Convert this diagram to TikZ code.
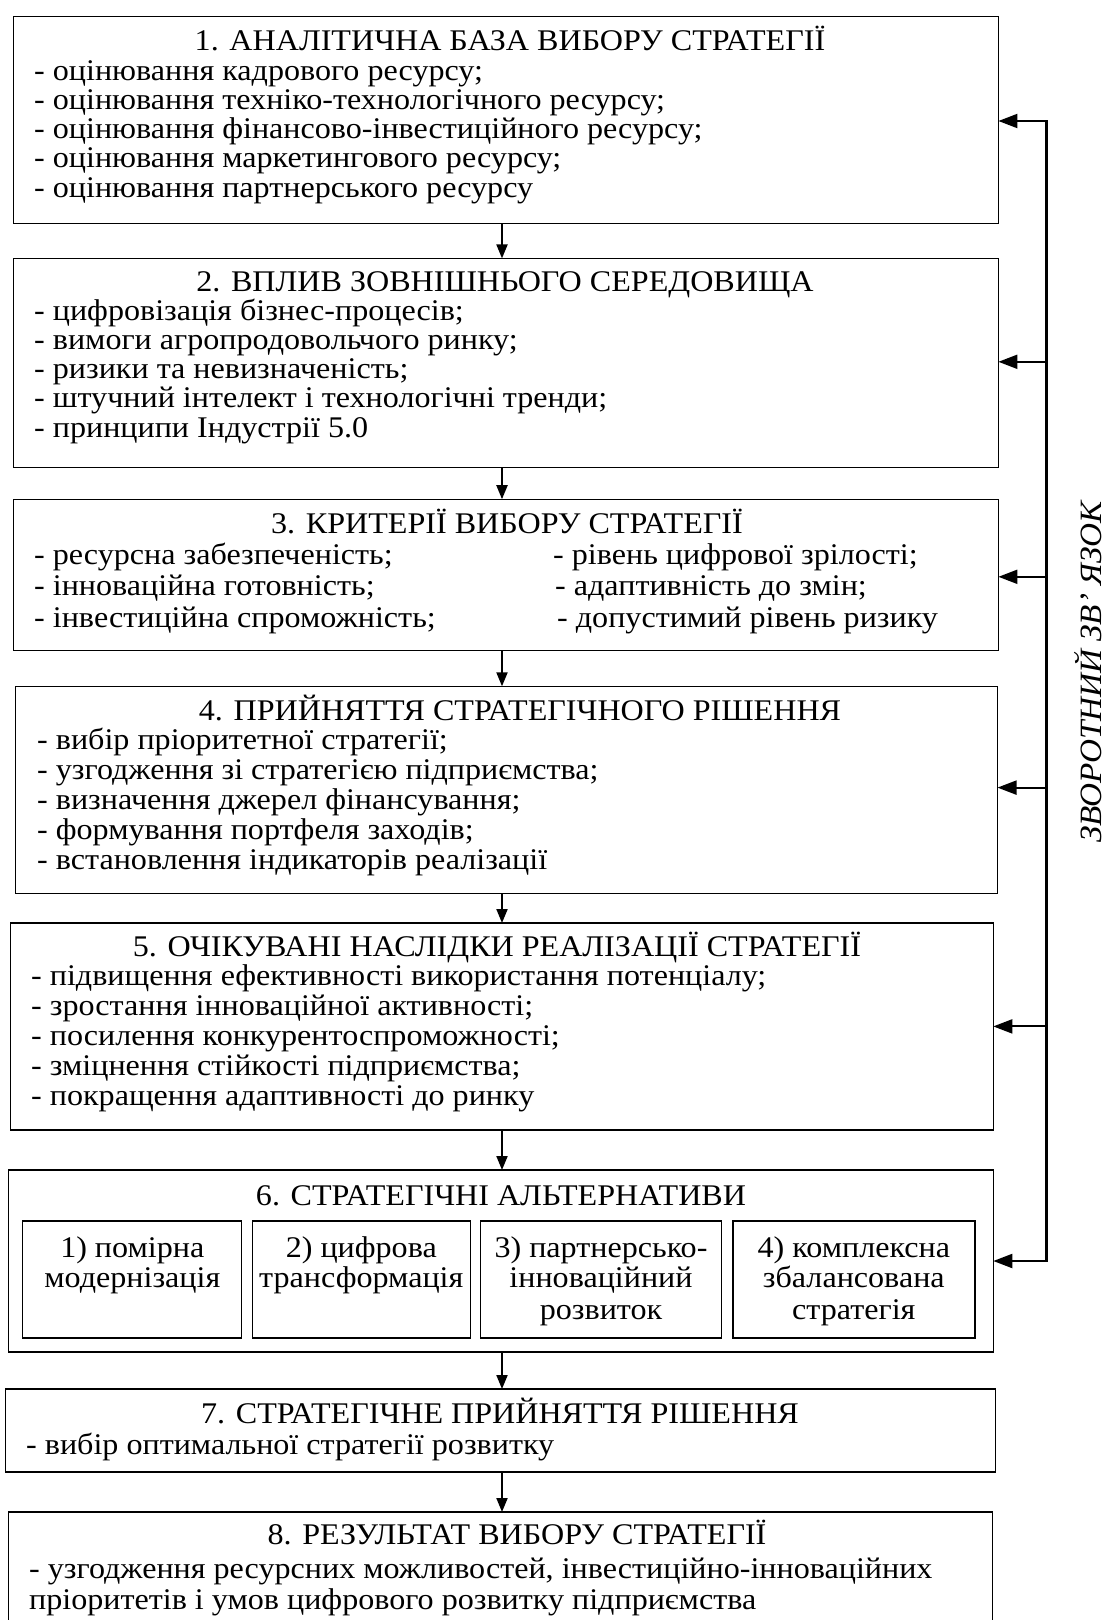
\documentclass[tikz,border=0pt]{standalone}
\usepackage{fontspec}
\setmainfont{Liberation Serif}[FakeStretch=1.07]
\usetikzlibrary{arrows.meta,calc}
\begin{document}
\begin{tikzpicture}[x=1pt,y=-1pt,
  box/.style={draw, line width=1.4pt, anchor=north west, inner sep=0pt, outer sep=0pt},
  ttl/.style={anchor=base, inner sep=0pt, font=\fontsize{30}{30}\selectfont},
  ln/.style={anchor=base west, inner sep=0pt, font=\fontsize{30}{30}\selectfont},
  cl/.style={anchor=base, inner sep=0pt, font=\fontsize{30}{30}\selectfont},
  arr/.style={line width=2pt, -{Triangle[length=14pt,width=11pt]}},
  fb/.style={line width=2pt, -{Triangle[length=19pt,width=14pt]}},
]
\useasboundingbox (0,0) rectangle (1107,1620);
\fill[white] (0,0) rectangle (1107,1620);

% boxes
\node[box, minimum width=985pt, minimum height=207pt] (b1) at (13.4,16.5) {};
\node[box, minimum width=985pt, minimum height=209pt] (b2) at (13.4,258.4) {};
\node[box, minimum width=985pt, minimum height=151pt] (b3) at (13.4,499.2) {};
\node[box, minimum width=982pt, minimum height=207pt] (b4) at (15.5,686.3) {};
\node[box, minimum width=983pt, minimum height=207pt] (b5) at (10.3,923) {};
\node[box, minimum width=985pt, minimum height=182pt] (b6) at (8.3,1170) {};
\node[box, minimum width=219pt, minimum height=117pt] (s1) at (22.7,1220.8) {};
\node[box, minimum width=218pt, minimum height=117pt] (s2) at (252.2,1220.8) {};
\node[box, minimum width=241pt, minimum height=117pt] (s3) at (480.6,1220.8) {};
\node[box, minimum width=242pt, minimum height=117pt] (s4) at (732.8,1220.8) {};
\node[box, minimum width=990pt, minimum height=83pt] (b7) at (5.2,1389) {};
\node[box, minimum width=984pt, minimum height=115pt] (b8) at (8.3,1512) {};

% down arrows
\coordinate (ax) at (502,0);
\draw[arr] (b1.south -| ax) -- (b2.north -| ax);
\draw[arr] (b2.south -| ax) -- (b3.north -| ax);
\draw[arr] (b3.south -| ax) -- (b4.north -| ax);
\draw[arr] (b4.south -| ax) -- (b5.north -| ax);
\draw[arr] (b5.south -| ax) -- (b6.north -| ax);
\draw[arr] (b6.south -| ax) -- (b7.north -| ax);
\draw[arr] (b7.south -| ax) -- (b8.north -| ax);

% feedback
\coordinate (f1) at (1046,121);
\coordinate (f2) at (1046,361.8);
\coordinate (f3) at (1046,576.8);
\coordinate (f4) at (1046,787.6);
\coordinate (f5) at (1046,1026.4);
\coordinate (f6) at (1046,1261);
\draw[line width=3pt] ([yshift=1pt]f1) -- ([yshift=-1pt]f6);
\draw[fb] (f1) -- (f1 -| b1.east);
\draw[fb] (f2) -- (f2 -| b2.east);
\draw[fb] (f3) -- (f3 -| b3.east);
\draw[fb] (f4) -- (f4 -| b4.east);
\draw[fb] (f5) -- (f5 -| b5.east);
\draw[fb] (f6) -- (f6 -| b6.east);
\node[rotate=90, inner sep=0pt, font=\itshape\fontsize{31}{31}\selectfont] (fbl) at (1088,672) {ЗВОРОТНИЙ ЗВ’ ЯЗОК};

% box 1
\node[ttl] (t1) at (510,50) {1. АНАЛІТИЧНА БАЗА ВИБОРУ СТРАТЕГІЇ};
\foreach \t [count=\i] in {- оцінювання кадрового ресурсу;, - оцінювання техніко-технологічного ресурсу;, - оцінювання фінансово-інвестиційного ресурсу;, - оцінювання маркетингового ресурсу;, - оцінювання партнерського ресурсу}
  {\node[ln] (b1l\i) at (34,{80+29.3*(\i-1)}) {\t};}

% box 2
\node[ttl] (t2) at (505,291) {2. ВПЛИВ ЗОВНІШНЬОГО СЕРЕДОВИЩА};
\foreach \t [count=\i] in {- цифровізація бізнес-процесів;, - вимоги агропродовольчого ринку;, - ризики та невизначеність;, - штучний інтелект і технологічні тренди;, - принципи Індустрії 5.0}
  {\node[ln] (b2l\i) at (34,{320+29.3*(\i-1)}) {\t};}

% box 3
\node[ttl] (t3) at (507,533) {3. КРИТЕРІЇ ВИБОРУ СТРАТЕГІЇ};
\node[ln] (b3a1) at (34,564) {- ресурсна забезпеченість;};
\node[ln] (b3a2) at (34,595) {- інноваційна готовність;};
\node[ln] (b3a3) at (34,627) {- інвестиційна спроможність;};
\node[ln] (b3b1) at (553,564) {- рівень цифрової зрілості;};
\node[ln] (b3b2) at (555,595) {- адаптивність до змін;};
\node[ln] (b3b3) at (557,627) {- допустимий рівень ризику};

% box 4
\node[ttl] (t4) at (520,720) {4. ПРИЙНЯТТЯ СТРАТЕГІЧНОГО РІШЕННЯ};
\foreach \t [count=\i] in {- вибір пріоритетної стратегії;, - узгодження зі стратегією підприємства;, - визначення джерел фінансування;, - формування портфеля заходів;, - встановлення індикаторів реалізації}
  {\node[ln] (b4l\i) at (37,{749+30.2*(\i-1)}) {\t};}

% box 5
\node[ttl] (t5) at (497,956) {5. ОЧІКУВАНІ НАСЛІДКИ РЕАЛІЗАЦІЇ СТРАТЕГІЇ};
\foreach \t [count=\i] in {- підвищення ефективності використання потенціалу;, - зростання інноваційної активності;, - посилення конкурентоспроможності;, - зміцнення стійкості підприємства;, - покращення адаптивності до ринку}
  {\node[ln] (b5l\i) at (31,{985+30*(\i-1)}) {\t};}

% box 6
\node[ttl] (t6) at (501,1205) {6. СТРАТЕГІЧНІ АЛЬТЕРНАТИВИ};
\node[cl] (s1a) at (132.3,1257) {1) помірна};
\node[cl] (s1b) at (132.3,1287) {модернізація};
\node[cl] (s2a) at (361.3,1257) {2) цифрова};
\node[cl] (s2b) at (361.3,1287) {трансформація};
\node[cl] (s3a) at (601,1257) {3) партнерсько-};
\node[cl] (s3b) at (601,1287) {інноваційний};
\node[cl] (s3c) at (601,1319) {розвиток};
\node[cl] (s4a) at (853.8,1257) {4) комплексна};
\node[cl] (s4b) at (853.8,1287) {збалансована};
\node[cl] (s4c) at (853.8,1319) {стратегія};

% box 7
\node[ttl] (t7) at (500,1423) {7. СТРАТЕГІЧНЕ ПРИЙНЯТТЯ РІШЕННЯ};
\node[ln] (b7l1) at (26,1454) {- вибір оптимальної стратегії розвитку};

% box 8
\node[ttl] (t8) at (517,1544) {8. РЕЗУЛЬТАТ ВИБОРУ СТРАТЕГІЇ};
\node[ln] (b8l1) at (29,1578) {- узгодження ресурсних можливостей, інвестиційно-інноваційних};
\node[ln] (b8l2) at (29,1609) {пріоритетів і умов цифрового розвитку підприємства};
\end{tikzpicture}
\end{document}
